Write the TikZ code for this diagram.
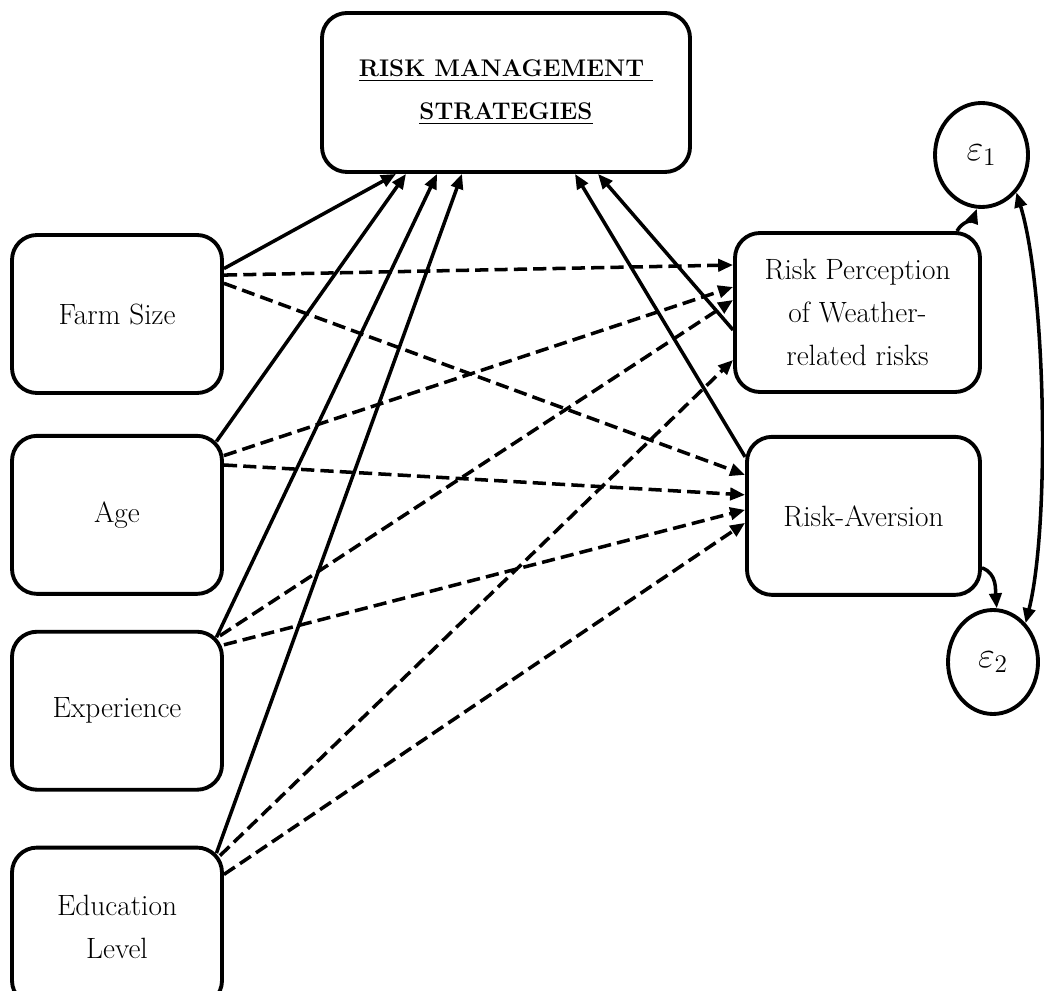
\documentclass[tikz,border=0pt]{standalone}
\usepackage{amsmath}
\usepackage{tikz}
\usetikzlibrary{shapes.geometric, arrows.meta, positioning}

\begin{document}
\begin{tikzpicture}[
	node distance=0.78cm and 1.5cm,
	>={Triangle[length=8.5pt,width=7pt]},
	block/.style={rectangle, rounded corners=0.5cm, draw, line width=2.2pt,
		minimum width=4.2cm, minimum height=3.16cm, align=center,
		font=\fontsize{16.7}{24.5}\selectfont},
	outcome/.style={block, minimum width=7.36cm, minimum height=3.18cm,
		font=\fontsize{13.7}{24.5}\selectfont\bfseries},
	errterm/.style={ellipse, draw, line width=2.2pt, minimum width=1.86cm,
		minimum height=2.08cm, inner sep=0pt, font=\fontsize{20}{22}\selectfont},
	arrow/.style={->, line width=2pt},
	dasharrow/.style={arrow, dash pattern=on 7.5pt off 3.5pt}
	]
	\useasboundingbox (0,0) rectangle (20.88,19.8);

	\node[outcome] (rms) at (10.12,17.95) {\underline{RISK MANAGEMENT\ }\\\underline{STRATEGIES}};

	\node[block] (farm) at (2.34,13.52) {Farm Size};
	\node[block, below=0.78cm of farm] (age) {Age};
	\node[block, below=0.68cm of age] (exp) {Experience};
	\node[block, below=1.08cm of exp] (edu) {Education\\Level};

	\node[block, minimum width=4.9cm, minimum height=3.18cm] (perc) at (17.15,13.55) {Risk Perception\\of Weather-\\related risks};
	\node[block, minimum width=4.66cm, below=0.82cm of perc, xshift=0.12cm] (avers) {Risk-Aversion};

	\node[errterm] (eps1) at (19.63,16.7) {$\varepsilon_1$};
	\node[errterm, minimum width=1.8cm] (eps2) at (19.86,6.56) {$\varepsilon_2$};

	% direct effects on strategies
	\draw[arrow] (farm.23) -- ([xshift=-2.2cm]rms.south);
	\draw[arrow] ([xshift=-1.5mm,yshift=-1.5mm]age.north east) -- ([xshift=-2cm]rms.south);
	\draw[arrow] ([xshift=-1.5mm,yshift=-1.5mm]exp.north east) -- ([xshift=-1.38cm]rms.south);
	\draw[arrow] ([xshift=-1.5mm,yshift=-1.5mm]edu.north east) -- ([xshift=-0.88cm]rms.south);
	\draw[arrow] ([yshift=-0.35cm]perc.west) -- ([xshift=1.84cm]rms.south);
	\draw[arrow] ([yshift=1.18cm]avers.west) -- ([xshift=1.38cm]rms.south);

	% effects on the mediators
	\draw[dasharrow] (farm.20) -- ([yshift=0.95cm]perc.west);
	\draw[dasharrow] (farm.16) -- ([yshift=0.82cm]avers.west);
	\draw[dasharrow] (age.29) -- ([yshift=0.51cm]perc.west);
	\draw[dasharrow] (age.25) -- ([yshift=0.42cm]avers.west);
	\draw[dasharrow] ([xshift=-0.08cm,yshift=-0.12cm]exp.north east) -- ([yshift=0.25cm]perc.west);
	\draw[dasharrow] ([yshift=-0.3cm]exp.north east) -- ([yshift=0.12cm]avers.west);
	\draw[dasharrow] ([xshift=-0.08cm,yshift=-0.2cm]edu.north east) -- ([yshift=-0.95cm]perc.west);
	\draw[dasharrow] (edu.26) -- ([yshift=-0.14cm]avers.west);

	% error terms
	\draw[arrow] ([xshift=-0.5cm]perc.north east) to[out=60,in=-110] (eps1.265);
	\draw[arrow] ([yshift=-1.04cm]avers.east) to[out=-20,in=95] (eps2.86);
	\draw[<->, line width=2pt] (eps1.313) to[out=-73,in=76,looseness=0.6] (eps2.50);
\end{tikzpicture}
\end{document}
